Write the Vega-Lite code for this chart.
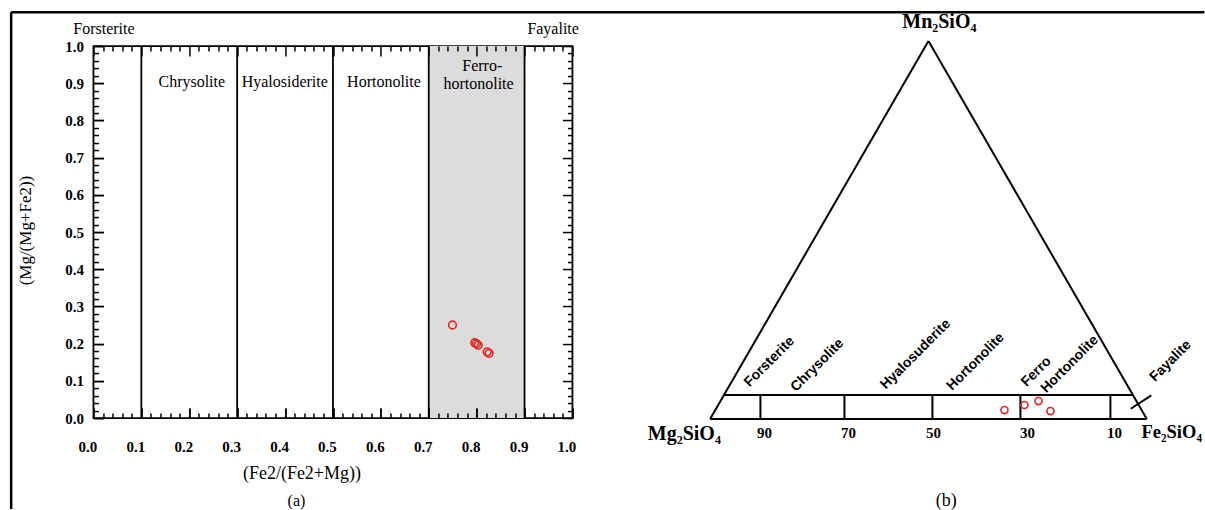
{
  "$schema": "https://vega.github.io/schema/vega-lite/v6.json",
  "background": "white",
  "autosize": {"type": "pad"},
  "padding": {"left": 8.45, "top": 10.05, "right": 0, "bottom": 0},
  "bounds": "flush",
  "spacing": 94,
  "config": {
    "view": {"stroke": "#000", "strokeWidth": 1.8},
    "axis": {"labelFont": "Liberation Serif", "titleFont": "Liberation Serif", "labelColor": "#000", "titleColor": "#000", "tickColor": "#000", "grid": false, "domain": false}
  },
  "hconcat": [
    {
      "width": 479,
      "height": 372,
      "resolve": {"axis": {"x": "independent", "y": "independent"}},
      "layer": [
        {
          "data": {"values": [{"x": 0.7, "x2": 0.9, "y": 0, "y2": 1}]},
          "mark": {"type": "rect", "fill": "#dcdcdc"},
          "encoding": {
            "x": {"field": "x", "type": "quantitative", "scale": {"domain": [0, 1], "nice": false, "zero": false},
              "axis": {"orient": "bottom", "values": [0, 0.1, 0.2, 0.3, 0.4, 0.5, 0.6, 0.7, 0.8, 0.9, 1], "format": ".1f", "ticks": true, "tickSize": -10, "tickWidth": 1.5, "zindex": 1, "labelFontWeight": "bold", "labelFontSize": 15, "labelPadding": 38, "labelBaseline": "middle", "labelOffset": -6, "labelFlush": false, "labelOverlap": false,
                "title": "(Fe2/(Fe2+Mg))", "titleFontSize": 18, "titleFontWeight": "normal", "titleX": 208, "titleY": 55, "titleBaseline": "middle", "titleAlign": "center"}},
            "x2": {"field": "x2"},
            "y": {"field": "y", "type": "quantitative", "scale": {"domain": [0, 1], "nice": false, "zero": false},
              "axis": {"orient": "left", "values": [0, 0.1, 0.2, 0.3, 0.4, 0.5, 0.6, 0.7, 0.8, 0.9, 1], "format": ".1f", "ticks": true, "tickSize": -10, "tickWidth": 1.5, "zindex": 1, "labelFontWeight": "bold", "labelFontSize": 15, "labelPadding": 20, "labelFlush": false, "labelOverlap": false,
                "title": "(Mg/(Mg+Fe2))", "titleFontSize": 17, "titleFontWeight": "normal", "titleX": -68, "titleY": 184, "titleAngle": -90, "titleBaseline": "middle", "titleAlign": "center"}},
            "y2": {"field": "y2"}
          }
        },
        {
          "data": {"values": [{"x": 0.1, "y": 0, "y2": 1}, {"x": 0.3, "y": 0, "y2": 1}, {"x": 0.5, "y": 0, "y2": 1}, {"x": 0.7, "y": 0, "y2": 1}, {"x": 0.9, "y": 0, "y2": 1}]},
          "mark": {"type": "rule", "color": "#000", "strokeWidth": 1.8},
          "encoding": {
            "x": {"field": "x", "type": "quantitative", "scale": {"domain": [0, 1], "nice": false, "zero": false},
              "axis": {"orient": "bottom", "values": [0, 0.1, 0.2, 0.3, 0.4, 0.5, 0.6, 0.7, 0.8, 0.9, 1], "labels": false, "ticks": true, "tickSize": -10, "tickWidth": 1.5, "title": null, "zindex": 1}},
            "y": {"field": "y", "type": "quantitative", "scale": {"domain": [0, 1], "nice": false, "zero": false},
              "axis": {"orient": "left", "values": [0, 0.1, 0.2, 0.3, 0.4, 0.5, 0.6, 0.7, 0.8, 0.9, 1], "labels": false, "ticks": true, "tickSize": -10, "tickWidth": 1.5, "title": null, "zindex": 1}},
            "y2": {"field": "y2"}
          }
        },
        {
          "data": {"values": [{"x": 0.7495, "y": 0.25}, {"x": 0.796, "y": 0.2024}, {"x": 0.7996, "y": 0.1997}, {"x": 0.803, "y": 0.196}, {"x": 0.822, "y": 0.178}, {"x": 0.826, "y": 0.174}]},
          "mark": {"type": "point", "shape": "circle", "filled": false, "stroke": "#e3261f", "strokeWidth": 1.6, "size": 60, "opacity": 1},
          "encoding": {
            "x": {"field": "x", "type": "quantitative", "scale": {"domain": [0, 1], "nice": false, "zero": false},
              "axis": {"orient": "bottom", "values": [0.02, 0.04, 0.06, 0.08, 0.12, 0.14, 0.16, 0.18, 0.22, 0.24, 0.26, 0.28, 0.32, 0.34, 0.36, 0.38, 0.42, 0.44, 0.46, 0.48, 0.52, 0.54, 0.56, 0.58, 0.62, 0.64, 0.66, 0.68, 0.72, 0.74, 0.76, 0.78, 0.82, 0.84, 0.86, 0.88, 0.92, 0.94, 0.96, 0.98], "labels": false, "ticks": true, "tickSize": -5, "tickWidth": 1.5, "title": null, "zindex": 1}},
            "y": {"field": "y", "type": "quantitative", "scale": {"domain": [0, 1], "nice": false, "zero": false},
              "axis": {"orient": "left", "values": [0.02, 0.04, 0.06, 0.08, 0.12, 0.14, 0.16, 0.18, 0.22, 0.24, 0.26, 0.28, 0.32, 0.34, 0.36, 0.38, 0.42, 0.44, 0.46, 0.48, 0.52, 0.54, 0.56, 0.58, 0.62, 0.64, 0.66, 0.68, 0.72, 0.74, 0.76, 0.78, 0.82, 0.84, 0.86, 0.88, 0.92, 0.94, 0.96, 0.98], "labels": false, "ticks": true, "tickSize": -5, "tickWidth": 1.5, "title": null, "zindex": 1}}
          }
        },
        {
          "data": {"values": [
            {"x": 0.2053, "y": 0.9032, "label": "Chrysolite"},
            {"x": 0.3994, "y": 0.9032, "label": "Hyalosiderite"},
            {"x": 0.6065, "y": 0.9032, "label": "Hortonolite"},
            {"x": 0.8117, "y": 0.9462, "label": "Ferro-"},
            {"x": 0.804, "y": 0.897, "label": "hortonolite"}
          ]},
          "mark": {"type": "text", "font": "Liberation Serif", "fontSize": 16, "align": "center", "baseline": "middle", "color": "#000"},
          "encoding": {
            "x": {"field": "x", "type": "quantitative", "scale": {"domain": [0, 1], "nice": false, "zero": false},
              "axis": {"orient": "top", "values": [0, 0.1, 0.2, 0.3, 0.4, 0.5, 0.6, 0.7, 0.8, 0.9, 1], "labels": false, "ticks": true, "tickSize": -10, "tickWidth": 1.5, "title": null, "zindex": 1}},
            "y": {"field": "y", "type": "quantitative", "scale": {"domain": [0, 1], "nice": false, "zero": false},
              "axis": {"orient": "right", "values": [0, 0.1, 0.2, 0.3, 0.4, 0.5, 0.6, 0.7, 0.8, 0.9, 1], "labels": false, "ticks": true, "tickSize": -10, "tickWidth": 1.5, "title": null, "zindex": 1}},
            "text": {"field": "label"}
          }
        },
        {
          "data": {"values": [
            {"x": 0.0219, "y": 1.0457, "label": "Forsterite"},
            {"x": 0.9597, "y": 1.0457, "label": "Fayalite"},
            {"x": 0.4238, "y": -0.2231, "label": "(a)"}
          ]},
          "mark": {"type": "text", "font": "Liberation Serif", "fontSize": 16, "align": "center", "baseline": "middle", "color": "#000"},
          "encoding": {
            "x": {"field": "x", "type": "quantitative", "scale": {"domain": [0, 1], "nice": false, "zero": false},
              "axis": {"orient": "top", "values": [0.02, 0.04, 0.06, 0.08, 0.12, 0.14, 0.16, 0.18, 0.22, 0.24, 0.26, 0.28, 0.32, 0.34, 0.36, 0.38, 0.42, 0.44, 0.46, 0.48, 0.52, 0.54, 0.56, 0.58, 0.62, 0.64, 0.66, 0.68, 0.72, 0.74, 0.76, 0.78, 0.82, 0.84, 0.86, 0.88, 0.92, 0.94, 0.96, 0.98], "labels": false, "ticks": true, "tickSize": -5, "tickWidth": 1.5, "title": null, "zindex": 1}},
            "y": {"field": "y", "type": "quantitative", "scale": {"domain": [0, 1], "nice": false, "zero": false},
              "axis": {"orient": "right", "values": [0.02, 0.04, 0.06, 0.08, 0.12, 0.14, 0.16, 0.18, 0.22, 0.24, 0.26, 0.28, 0.32, 0.34, 0.36, 0.38, 0.42, 0.44, 0.46, 0.48, 0.52, 0.54, 0.56, 0.58, 0.62, 0.64, 0.66, 0.68, 0.72, 0.74, 0.76, 0.78, 0.82, 0.84, 0.86, 0.88, 0.92, 0.94, 0.96, 0.98], "labels": false, "ticks": true, "tickSize": -5, "tickWidth": 1.5, "title": null, "zindex": 1}},
            "text": {"field": "label"}
          }
        },
        {
          "data": {"values": [
            {"x": -0.1718, "y": 1.0906, "x2": 2.3194, "y2": 1.0906},
            {"x": -0.1718, "y": 1.0906, "x2": -0.1718, "y2": -0.2446}
          ]},
          "mark": {"type": "rule", "color": "#000", "strokeWidth": 2.5},
          "encoding": {
            "x": {"field": "x", "type": "quantitative", "scale": {"domain": [0, 1], "nice": false, "zero": false}, "axis": null},
            "y": {"field": "y", "type": "quantitative", "scale": {"domain": [0, 1], "nice": false, "zero": false}, "axis": null},
            "x2": {"field": "x2"},
            "y2": {"field": "y2"}
          }
        }
      ]
    },
    {
      "width": 540,
      "height": 460,
      "view": {"stroke": null},
      "layer": [
        {
          "data": {"values": [
            {"x": 0, "y": 0, "x2": 100, "y2": 0},
            {"x": 0, "y": 0, "x2": 50, "y2": 86.6},
            {"x": 100, "y": 0, "x2": 50, "y2": 86.6},
            {"x": 3.17, "y": 5.49, "x2": 96.83, "y2": 5.49},
            {"x": 11.52, "y": 0, "x2": 11.52, "y2": 5.49},
            {"x": 30.76, "y": 0, "x2": 30.76, "y2": 5.49},
            {"x": 50.91, "y": 0, "x2": 50.91, "y2": 5.49},
            {"x": 71.06, "y": 0, "x2": 71.06, "y2": 5.49},
            {"x": 91.67, "y": 0, "x2": 91.67, "y2": 5.49},
            {"x": 96.32, "y": 2.36, "x2": 101.04, "y2": 5.43}
          ]},
          "mark": {"type": "rule", "color": "#000", "strokeWidth": 2},
          "encoding": {
            "x": {"field": "x", "type": "quantitative", "scale": {"domain": [-10, 113.66], "nice": false, "zero": false}, "axis": null},
            "y": {"field": "y", "type": "quantitative", "scale": {"domain": [-19.92, 85.42], "nice": false, "zero": false}, "axis": null},
            "x2": {"field": "x2"},
            "y2": {"field": "y2"}
          }
        },
        {
          "data": {"values": [{"x": 67.4, "y": 2.06}, {"x": 71.98, "y": 3.21}, {"x": 75.19, "y": 4.12}, {"x": 77.93, "y": 1.83}]},
          "mark": {"type": "point", "shape": "circle", "filled": false, "stroke": "#e3261f", "strokeWidth": 1.6, "size": 50, "opacity": 1},
          "encoding": {
            "x": {"field": "x", "type": "quantitative", "scale": {"domain": [-10, 113.66], "nice": false, "zero": false}, "axis": null},
            "y": {"field": "y", "type": "quantitative", "scale": {"domain": [-19.92, 85.42], "nice": false, "zero": false}, "axis": null}
          }
        },
        {
          "data": {"values": [
            {"x": 13.58, "y": 13.12, "label": "Forsterite"},
            {"x": 24.53, "y": 12.32, "label": "Chrysolite"},
            {"x": 47.06, "y": 14.82, "label": "Hyalosuderite"},
            {"x": 60.8, "y": 13.1, "label": "Hortonolite"},
            {"x": 74.72, "y": 10.83, "label": "Ferro"},
            {"x": 82.35, "y": 12.53, "label": "Hortonolite"},
            {"x": 105.46, "y": 13.28, "label": "Fayalite"}
          ]},
          "mark": {"type": "text", "font": "Liberation Sans", "fontWeight": "bold", "fontSize": 14, "angle": -45, "align": "center", "baseline": "middle", "color": "#000"},
          "encoding": {
            "x": {"field": "x", "type": "quantitative", "scale": {"domain": [-10, 113.66], "nice": false, "zero": false}, "axis": null},
            "y": {"field": "y", "type": "quantitative", "scale": {"domain": [-19.92, 85.42], "nice": false, "zero": false}, "axis": null},
            "text": {"field": "label"}
          }
        },
        {
          "data": {"values": [
            {"x": 52.5, "y": 89.54, "label": "Mn₂SiO₄"},
            {"x": -5.89, "y": -4.81, "label": "Mg₂SiO₄"}
          ]},
          "mark": {"type": "text", "font": "Liberation Serif", "fontWeight": "bold", "fontSize": 20, "align": "center", "baseline": "alphabetic", "color": "#000"},
          "encoding": {
            "x": {"field": "x", "type": "quantitative", "scale": {"domain": [-10, 113.66], "nice": false, "zero": false}, "axis": null},
            "y": {"field": "y", "type": "quantitative", "scale": {"domain": [-19.92, 85.42], "nice": false, "zero": false}, "axis": null},
            "text": {"field": "label"}
          }
        },
        {
          "data": {"values": [{"x": 98.8, "y": -4.28, "label": "Fe₂SiO₄"}]},
          "mark": {"type": "text", "font": "Liberation Serif", "fontWeight": "bold", "fontSize": 18.5, "align": "left", "baseline": "alphabetic", "color": "#000", "clip": true},
          "encoding": {
            "x": {"field": "x", "type": "quantitative", "scale": {"domain": [-10, 113.66], "nice": false, "zero": false}, "axis": null},
            "y": {"field": "y", "type": "quantitative", "scale": {"domain": [-19.92, 85.42], "nice": false, "zero": false}, "axis": null},
            "text": {"field": "label"}
          }
        },
        {
          "data": {"values": [
            {"x": 12.43, "y": -3.21, "label": "90"},
            {"x": 31.67, "y": -3.21, "label": "70"},
            {"x": 51.14, "y": -3.21, "label": "50"},
            {"x": 72.67, "y": -3.21, "label": "30"},
            {"x": 92.59, "y": -3.21, "label": "10"}
          ]},
          "mark": {"type": "text", "font": "Liberation Serif", "fontWeight": "bold", "fontSize": 15, "align": "center", "baseline": "middle", "color": "#000"},
          "encoding": {
            "x": {"field": "x", "type": "quantitative", "scale": {"domain": [-10, 113.66], "nice": false, "zero": false}, "axis": null},
            "y": {"field": "y", "type": "quantitative", "scale": {"domain": [-19.92, 85.42], "nice": false, "zero": false}, "axis": null},
            "text": {"field": "label"}
          }
        },
        {
          "data": {"values": [{"x": 54.1, "y": -18.78, "label": "(b)"}]},
          "mark": {"type": "text", "font": "Liberation Serif", "fontSize": 18, "align": "center", "baseline": "middle", "color": "#000"},
          "encoding": {
            "x": {"field": "x", "type": "quantitative", "scale": {"domain": [-10, 113.66], "nice": false, "zero": false}, "axis": null},
            "y": {"field": "y", "type": "quantitative", "scale": {"domain": [-19.92, 85.42], "nice": false, "zero": false}, "axis": null},
            "text": {"field": "label"}
          }
        }
      ]
    }
  ]
}
